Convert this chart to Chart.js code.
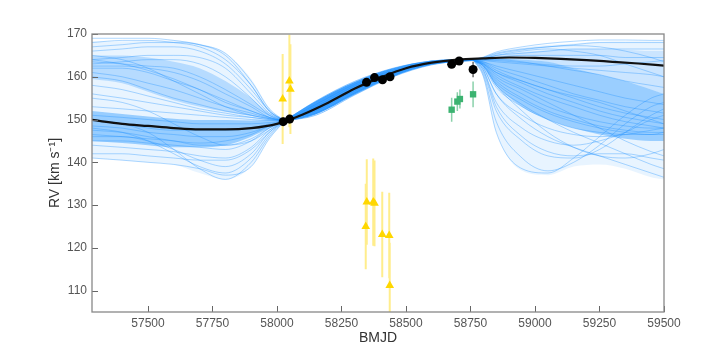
<!DOCTYPE html>
<html>
<head>
<meta charset="utf-8">
<script src="https://cdn.jsdelivr.net/npm/chart.js@4.4.1/dist/chart.umd.min.js"></script>
<style>
  html, body { margin: 0; padding: 0; background: #fff; }
  #wrap { width: 719px; height: 359px; }
</style>
</head>
<body>
<div id="wrap"><canvas id="rv"></canvas></div>
<script>
// best-fit orbit
var modelX = [57283, 57400, 57500, 57600, 57700, 57800, 57900, 58000, 58100, 58200, 58300, 58400, 58500, 58600, 58700, 58800, 58900, 59000, 59100, 59200, 59300, 59400, 59500];
var modelY = [149.9, 149.0, 148.5, 148.0, 147.7, 147.7, 148.0, 149.0, 151.2, 154.0, 157.2, 159.8, 162.0, 163.3, 164.0, 164.3, 164.5, 164.4, 164.2, 163.9, 163.5, 163.1, 162.6];

// posterior draws, split in three pieces (before, between and after the data)
var leftX = [57283, 57400, 57500, 57600, 57700, 57800, 57900, 57970, 58030];
var leftDraws = [
  [168, 168.5, 168.5, 168, 167, 164, 158, 152, 149.7],
  [166, 166.5, 167, 167, 166, 163, 157, 152, 149.7],
  [164, 164.5, 165, 165, 164.5, 162, 156, 151.5, 149.7],
  [163, 163.5, 164, 164, 163, 160, 155, 151, 149.7],
  [163.5, 163, 162.5, 162, 160, 157, 153.5, 151, 149.7],
  [162.5, 162.5, 162, 161, 159, 156, 153, 150.5, 149.7],
  [162, 162, 161, 159, 157, 154, 152, 150.5, 149.7],
  [164, 163, 161.5, 159.5, 157, 154.5, 152, 150.5, 149.7],
  [161, 160, 158.5, 157, 155, 153, 151.5, 150.3, 149.7],
  [160, 159, 157, 155, 153.5, 152, 151, 150.2, 149.7],
  [158, 157, 155.5, 154, 152.5, 151.5, 150.5, 150, 149.7],
  [156, 155, 154, 153, 152, 151, 150.5, 150, 149.7],
  [153, 152.5, 152, 151.5, 151, 150.5, 150, 149.8, 149.7],
  [151, 150.5, 150, 149.5, 149, 149, 149, 149.3, 149.7],
  [150, 149, 148, 147.5, 147.5, 147.5, 148, 149, 149.7],
  [148.5, 148, 147, 146.5, 146, 146, 147, 148.5, 149.7],
  [147.5, 147, 146, 145, 144.5, 145, 146.5, 148.5, 149.7],
  [146.5, 146, 145.5, 145, 144, 144, 145.5, 148, 149.7],
  [145, 145, 144.5, 144, 143.5, 143, 145, 148, 149.7],
  [144, 143.5, 143, 142.5, 141.5, 141, 143.5, 147.5, 149.7],
  [148, 147, 145, 142, 139, 137.5, 141, 146.5, 149.7],
  [150, 149, 147, 143, 138.5, 136, 140, 146, 149.7],
  [142, 142, 141.5, 141, 140.5, 140.5, 143, 147, 149.7],
  [146, 146, 145, 143, 140.5, 139, 142, 147, 149.7],
  [155, 154, 152, 149, 146, 144, 145, 147.5, 149.7],
  [165, 164, 162, 159, 156, 153, 151, 150.2, 149.7],
  [169, 169, 169, 168.5, 167.5, 165.5, 159, 152.5, 149.7],
  [141, 140.5, 140, 139.5, 138.5, 137, 139, 145.5, 149.7],
  [167, 167.5, 168, 168, 167.5, 165, 158, 152, 149.7]
];
// shaded zones of the left fan: outer envelope, upper dense band, core band
var leftOuterHi = [168.3, 168.3, 168.5, 168.5, 167.7, 165.5, 159.5, 152.8, 149.8];
var leftOuterLo = [141, 140.5, 140, 139.5, 137.5, 136, 139, 145.5, 149.6];
var leftBandHi = [165, 165, 164.5, 163.5, 162, 159, 155, 151.5, 149.8];
var leftBandLo = [159.5, 158.5, 156.5, 154.5, 153, 151.8, 150.8, 150.1, 149.7];
var leftCoreHi = [152, 151.3, 150.7, 150.2, 149.9, 149.9, 149.8, 149.9, 149.8];
var leftCoreLo = [145, 144.5, 144, 143.5, 143.5, 144, 146, 148, 149.6];

var midX = [58030, 58150, 58300, 58450, 58600, 58760];
var midDraws = [
  [149.7, 153.5, 158.2, 161.5, 163.5, 164],
  [149.7, 153, 157.8, 161.2, 163.4, 164],
  [149.7, 152.5, 157.2, 160.9, 163.3, 164],
  [149.7, 152, 156.7, 160.6, 163.1, 164],
  [149.7, 151.5, 156.2, 160.3, 163, 164],
  [149.7, 154.3, 158.9, 162, 163.7, 164.1],
  [149.7, 151, 155.7, 160, 162.8, 164]
];
var midBandHi = [149.9, 154.3, 158.8, 162, 163.8, 164.3];
var midBandLo = [149.5, 151.2, 155.8, 160, 162.8, 163.7];

var rightX = [58760, 58800, 58850, 58950, 59050, 59150, 59250, 59350, 59450, 59500];
var rightDraws = [
  [164, 164.5, 165.5, 166.5, 167, 167.5, 168, 168, 168, 168],
  [164, 164.3, 165, 165.5, 166, 166.5, 166.5, 166.5, 166.5, 166.5],
  [164, 164, 164.5, 165, 165, 165, 165, 164.5, 164.5, 164.5],
  [164, 163.8, 163.5, 163, 162.5, 162, 161.5, 161, 160.5, 160],
  [164, 163.5, 162.5, 161, 159.5, 158, 156.5, 155, 154, 153.5],
  [164, 163.3, 161.5, 159, 157, 155, 153, 151.5, 150.5, 150],
  [164, 163, 160.5, 157.5, 155, 153, 151, 149.5, 148.5, 148],
  [164, 162.8, 159.5, 156, 153, 151, 149.5, 148.5, 148, 148],
  [164, 162.5, 158.5, 154.5, 151.5, 149.5, 148, 147, 146.5, 146.5],
  [164, 162.3, 157.5, 153, 150, 148, 147, 146.5, 146.5, 147],
  [164, 162, 156, 151, 148, 146.5, 146, 146.5, 147.5, 148],
  [164, 161.5, 154, 148, 145, 144, 145, 147, 150, 151],
  [164, 161, 152, 145, 141.5, 141, 143, 147, 151, 152.5],
  [164, 160.5, 149.5, 141, 138, 140, 144, 149, 153, 154],
  [164, 160, 147, 138.5, 137.5, 141, 146, 151, 155, 156],
  [164, 161.5, 153, 146, 142.5, 141.5, 142, 142, 141, 140.5],
  [164, 162, 156, 150, 146, 143.5, 141.5, 139.5, 137.5, 136.5],
  [164, 162.5, 158, 153.5, 150, 147, 144.5, 142, 139.5, 138.5],
  [164, 163, 160, 157, 154, 151, 148, 145, 142.5, 141.5],
  [164, 163.2, 161, 158.5, 156, 154, 152, 150.5, 149.5, 149],
  [164, 163.5, 162, 160, 158, 156, 154.5, 153, 152, 151.5],
  [164, 164, 164, 163.5, 162.5, 161.5, 160.5, 159, 158, 157.5],
  [164, 162.5, 158, 152, 147, 143.5, 141.5, 141, 142, 143],
  [164, 162.7, 159, 155, 152, 150, 148.5, 147.5, 147, 147],
  [164, 164.2, 165, 166, 166.5, 166, 165, 163, 161, 160],
  [164, 163, 161, 159, 157, 155.5, 154, 152, 150, 149],
  [164, 164.4, 165.3, 166.3, 167, 167.3, 167, 166, 164.5, 163.5],
  [164, 163.9, 163.8, 163.3, 162.8, 162.5, 162.5, 163, 163.5, 163.8],
  [164, 164.6, 165.8, 167, 167.8, 168.3, 168.6, 168.6, 168.5, 168.5]
];
var rightOuterHi = [164.3, 164.7, 165.8, 166.8, 167.4, 167.8, 168.2, 168.3, 168.3, 168.3];
var rightOuterLo = [163.6, 159.8, 147, 138, 137, 139, 139.5, 138.5, 136.5, 136];
var rightUpperHi = [164.2, 164.4, 165, 165.8, 166.2, 166.5, 166.5, 166.3, 166, 166];
var rightUpperLo = [164, 164, 164, 164, 163.5, 162, 160.5, 159, 157, 156];
var rightBandHi = [164.2, 164.2, 164.2, 164, 163.5, 162, 160.5, 159, 157, 156];
var rightBandLo = [163.7, 162.5, 158, 153, 150, 148, 146.5, 145.5, 145, 145];

// measurements
var yellowX = [58022, 58048, 58052, 58344, 58348, 58373, 58378, 58408, 58435, 58437];
var yellowY = [154.8, 159.0, 157.1, 125.0, 130.7, 130.7, 130.4, 123.1, 122.9, 111.2];
var yellowErr = [10.5, 10.8, 10.5, 10.0, 10.0, 10.2, 10.0, 10.0, 10.0, 10.0];

var greenX = [58677, 58699, 58709, 58760];
var greenY = [152.3, 154.2, 154.8, 155.9];
var greenErr = [2.8, 2.2, 2.2, 3.0];

var blackX = [58024, 58049, 58347, 58378, 58409, 58438, 58677, 58706, 58760];
var blackY = [149.5, 150.1, 158.7, 159.8, 159.3, 160.0, 162.9, 163.7, 161.7];
var blackErr = [1.0, 1.0, 0.5, 0.5, 0.5, 0.5, 0.6, 0.6, 1.8];

var xTicks = [57500, 57750, 58000, 58250, 58500, 58750, 59000, 59250, 59500];
var yTicks = [110, 120, 130, 140, 150, 160, 170];

function pts(xs, ys) {
  return xs.map(function(x, i) { return {x: x, y: ys[i]}; });
}
function bars(xs, ys, es) {
  var out = [];
  xs.forEach(function(x, i) {
    out.push({x: x, y: ys[i] - es[i]}, {x: x, y: ys[i] + es[i]}, {x: x, y: null});
  });
  return out;
}

var datasets = [];
function addBand(xs, hi, lo, color) {
  datasets.push({
    data: pts(xs, hi), showLine: true, fill: '+1', backgroundColor: color,
    borderWidth: 0, borderColor: 'rgba(0,0,0,0)', pointRadius: 0,
    cubicInterpolationMode: 'monotone', order: 12
  });
  datasets.push({
    data: pts(xs, lo), showLine: true, fill: false,
    borderWidth: 0, borderColor: 'rgba(0,0,0,0)', pointRadius: 0,
    cubicInterpolationMode: 'monotone', order: 12
  });
}
function addDraws(xs, draws, alpha) {
  draws.forEach(function(d) {
    datasets.push({
      data: pts(xs, d),
      showLine: true,
      borderColor: 'rgba(30,144,255,' + alpha + ')',
      borderWidth: 1,
      pointRadius: 0,
      cubicInterpolationMode: 'monotone',
      order: 10
    });
  });
}
addBand(leftX, leftOuterHi, leftOuterLo, 'rgba(30,144,255,0.1)');
addBand(leftX, leftBandHi, leftBandLo, 'rgba(30,144,255,0.25)');
addBand(leftX, leftCoreHi, leftCoreLo, 'rgba(30,144,255,0.4)');
addBand(midX, midBandHi, midBandLo, 'rgba(30,144,255,0.85)');
addBand(rightX, rightOuterHi, rightOuterLo, 'rgba(30,144,255,0.1)');
addBand(rightX, rightUpperHi, rightUpperLo, 'rgba(30,144,255,0.14)');
addBand(rightX, rightBandHi, rightBandLo, 'rgba(30,144,255,0.38)');
addDraws(leftX, leftDraws, 0.35);
addDraws(midX, midDraws, 0.5);
addDraws(rightX, rightDraws, 0.35);

datasets.push({
  data: pts(modelX, modelY), showLine: true, borderColor: '#111', borderWidth: 2.2,
  pointRadius: 0, cubicInterpolationMode: 'monotone', order: 6
});
datasets.push({
  data: bars(yellowX, yellowY, yellowErr), showLine: true, spanGaps: false,
  borderColor: 'rgba(255,215,0,0.45)', borderWidth: 2, pointRadius: 0, order: 5
});
datasets.push({
  data: pts(yellowX, yellowY), pointStyle: 'triangle', pointRadius: 5,
  backgroundColor: '#FFD700', borderColor: '#FFD700', borderWidth: 0, order: 4
});
datasets.push({
  data: bars(greenX, greenY, greenErr), showLine: true, spanGaps: false,
  borderColor: 'rgba(60,179,113,0.6)', borderWidth: 1.5, pointRadius: 0, order: 3
});
datasets.push({
  data: pts(greenX, greenY), pointStyle: 'rect', pointRadius: 4.5,
  backgroundColor: '#3CB371', borderColor: '#3CB371', borderWidth: 0, order: 2
});
datasets.push({
  data: bars(blackX, blackY, blackErr), showLine: true, spanGaps: false,
  borderColor: 'rgba(0,0,0,0.6)', borderWidth: 1.5, pointRadius: 0, order: 1
});
datasets.push({
  data: pts(blackX, blackY), pointStyle: 'circle', pointRadius: 4.5,
  backgroundColor: '#000', borderColor: '#000', borderWidth: 0, order: 0
});

// inward ticks and the box around the plot
var frame = {
  id: 'frame',
  afterDatasetsDraw: function(chart) {
    var ctx = chart.ctx, a = chart.chartArea;
    var xs = chart.scales.x, ys = chart.scales.y;
    ctx.save();
    ctx.strokeStyle = '#666';
    ctx.lineWidth = 1;
    ctx.beginPath();
    xTicks.forEach(function(t) {
      var px = Math.round(xs.getPixelForValue(t)) + 0.5;
      ctx.moveTo(px, a.bottom);
      ctx.lineTo(px, a.bottom - 6);
    });
    yTicks.forEach(function(t) {
      var py = Math.round(ys.getPixelForValue(t)) + 0.5;
      ctx.moveTo(a.left, py);
      ctx.lineTo(a.left + 6, py);
    });
    ctx.stroke();
    ctx.strokeStyle = '#888';
    ctx.lineWidth = 1.3;
    ctx.strokeRect(a.left, a.top, a.right - a.left, a.bottom - a.top);
    ctx.restore();
  }
};

new Chart(document.getElementById('rv'), {
  type: 'scatter',
  data: { datasets: datasets },
  plugins: [frame],
  options: {
    responsive: true,
    maintainAspectRatio: false,
    animation: false,
    layout: { padding: { left: 0, right: 55, top: 34, bottom: 0 } },
    plugins: { legend: { display: false }, tooltip: { enabled: false } },
    scales: {
      x: {
        type: 'linear', min: 57283, max: 59500,
        afterFit: function(s) { s.height = 47; },
        afterBuildTicks: function(s) { s.ticks = xTicks.map(function(v) { return {value: v}; }); },
        grid: { display: false, drawTicks: false },
        border: { display: false },
        ticks: { padding: 4, color: '#555', font: { family: 'Liberation Sans', size: 12 },
                 callback: function(v) { return String(v); } },
        title: { display: true, text: 'BMJD', color: '#333',
                 font: { family: 'Liberation Sans', size: 14 }, padding: { top: 0, bottom: 12 } }
      },
      y: {
        type: 'linear', min: 105, max: 170,
        afterFit: function(s) { s.width = 92; },
        afterBuildTicks: function(s) { s.ticks = yTicks.map(function(v) { return {value: v}; }); },
        grid: { display: false, drawTicks: false },
        border: { display: false },
        ticks: { padding: 5, color: '#555', font: { family: 'Liberation Sans', size: 12 } },
        title: { display: true, text: 'RV [km s⁻¹]', color: '#333',
                 font: { family: 'Liberation Sans', size: 14 }, padding: { top: 47, bottom: 0 } }
      }
    }
  }
});
</script>
</body>
</html>
